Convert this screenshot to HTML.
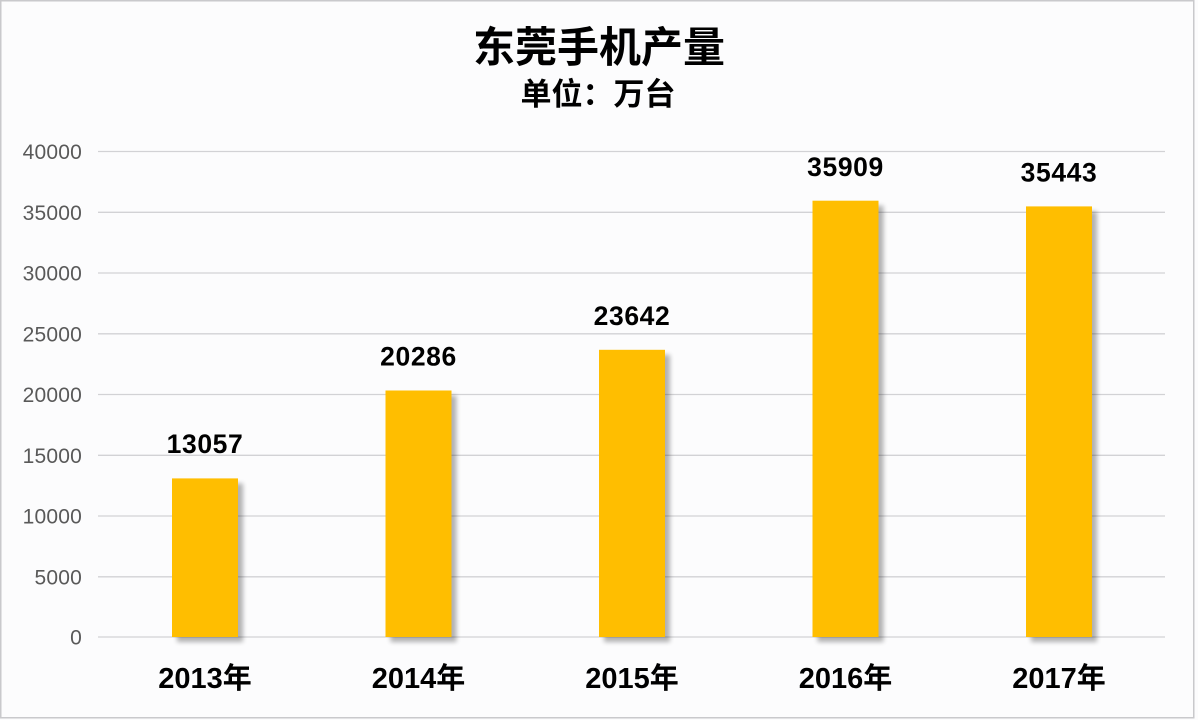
<!DOCTYPE html>
<html><head><meta charset="utf-8"><style>
html,body{margin:0;padding:0;background:#fcfcfd;}
svg{display:block;}
</style></head><body>
<svg width="1198" height="720" viewBox="0 0 1198 720" xmlns="http://www.w3.org/2000/svg">
<defs>
<filter id="sh" x="-20%" y="-10%" width="150%" height="130%">
<feGaussianBlur in="SourceAlpha" stdDeviation="2.5"/>
<feOffset dx="5" dy="5" result="b"/>
<feComponentTransfer><feFuncA type="linear" slope="0.3"/></feComponentTransfer>
<feMerge><feMergeNode/><feMergeNode in="SourceGraphic"/></feMerge>
</filter>
</defs>
<rect x="0" y="0" width="1198" height="720" fill="#fcfcfd"/>
<rect x="0.75" y="0.75" width="1193" height="717" fill="none" stroke="#c9c9cc" stroke-width="1.5"/>
<g font-family="'Liberation Sans','Noto Sans CJK SC',sans-serif" font-weight="bold" fill="#000" text-anchor="middle">
<text x="599" y="62" font-size="42">东莞手机产量</text>
<text x="598" y="105" font-size="31">单位：万台</text>
</g>
<g stroke="#d2d2d5" stroke-width="1.3">
<line x1="98" y1="151.5" x2="1165" y2="151.5"/>
<line x1="98" y1="212.3" x2="1165" y2="212.3"/>
<line x1="98" y1="273" x2="1165" y2="273"/>
<line x1="98" y1="333.8" x2="1165" y2="333.8"/>
<line x1="98" y1="394.5" x2="1165" y2="394.5"/>
<line x1="98" y1="455.3" x2="1165" y2="455.3"/>
<line x1="98" y1="516" x2="1165" y2="516"/>
<line x1="98" y1="576.8" x2="1165" y2="576.8"/>
<line x1="98" y1="637" x2="1165" y2="637"/>
</g>
<g font-family="'Liberation Sans',sans-serif" font-size="21" fill="#595959" text-anchor="end" letter-spacing="0.2">
<text x="82" y="159">40000</text>
<text x="82" y="219.8">35000</text>
<text x="82" y="280.5">30000</text>
<text x="82" y="341.3">25000</text>
<text x="82" y="402">20000</text>
<text x="82" y="462.8">15000</text>
<text x="82" y="523.5">10000</text>
<text x="82" y="584.3">5000</text>
<text x="82" y="644.5">0</text>
</g>
<g fill="#FFBE00" filter="url(#sh)">
<rect x="172" y="478.4" width="66" height="158.6"/>
<rect x="385.5" y="390.5" width="66" height="246.5"/>
<rect x="599" y="349.8" width="66" height="287.2"/>
<rect x="812.5" y="200.7" width="66" height="436.3"/>
<rect x="1026" y="206.4" width="66" height="430.6"/>
</g>
<g font-family="'Liberation Sans',sans-serif" font-weight="bold" font-size="26.5" fill="#000" text-anchor="middle" letter-spacing="0.6">
<text x="205" y="453">13057</text>
<text x="418.5" y="365.5">20286</text>
<text x="632" y="325">23642</text>
<text x="845.5" y="176">35909</text>
<text x="1059" y="181.5">35443</text>
</g>
<g font-family="'Liberation Sans','Noto Sans CJK SC',sans-serif" font-weight="bold" font-size="29" fill="#000" text-anchor="middle">
<text x="205" y="688">2013年</text>
<text x="418.5" y="688">2014年</text>
<text x="632" y="688">2015年</text>
<text x="845.5" y="688">2016年</text>
<text x="1059" y="688">2017年</text>
</g>
</svg>
</body></html>
